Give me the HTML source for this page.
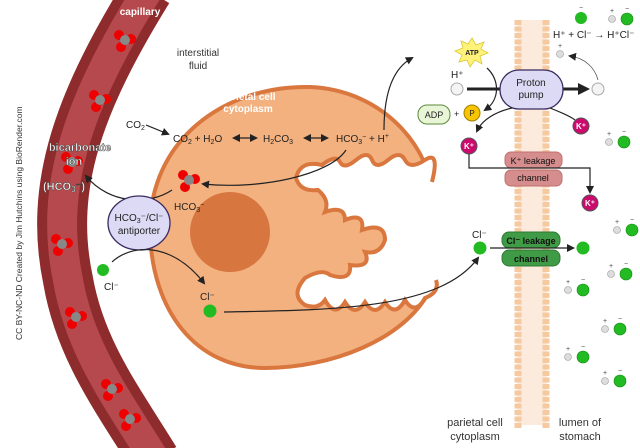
<!DOCTYPE html>
<html><head><meta charset="utf-8"><style>
html,body{margin:0;padding:0;background:#fff}
svg{display:block}
text{font-family:"Liberation Sans",sans-serif}
</style></head><body>
<svg width="640" height="448" viewBox="0 0 640 448" xmlns="http://www.w3.org/2000/svg">
<defs>
<marker id="ah" markerWidth="8" markerHeight="8" refX="6" refY="4" orient="auto-start-reverse" markerUnits="userSpaceOnUse"><path d="M0,0 L8,4 L0,8 Z" fill="#222"/></marker>
<g id="mol"><circle cx="-6" cy="-5" r="5" fill="#e00"/><circle cx="6" cy="-1" r="5" fill="#e00"/><circle cx="-4" cy="7" r="5" fill="#e00"/><circle cx="0" cy="0" r="5" fill="#888"/></g>
<g id="pr"><circle cx="0" cy="0" r="3.5" fill="#ddd" stroke="#999" stroke-width="0.6"/><circle cx="15" cy="0" r="6" fill="#22bb22" stroke="#118811" stroke-width="0.6"/><text x="-2" y="-6" font-size="7" fill="#444">+</text><text x="13" y="-8" font-size="7" fill="#444">−</text></g>
</defs>

<!-- membrane -->
<rect x="517" y="20" width="30" height="405" fill="#fcebdc"/>
<g stroke="#f6caa0" stroke-width="7" stroke-dasharray="5 1.5">
<line x1="518" y1="20" x2="518" y2="428"/>
<line x1="546" y1="20" x2="546" y2="428"/>
</g>

<!-- capillary -->
<path d="M148,-10 C80,100 48,185 68,280 C80,350 118,400 155,460" fill="none" stroke="#8e2b2c" stroke-width="50"/>
<path d="M148,-10 C80,100 48,185 68,280 C80,350 118,400 155,460" fill="none" stroke="#b5494d" stroke-width="30"/>
<use href="#mol" x="125" y="40"/>
<use href="#mol" x="100" y="100"/>
<use href="#mol" x="72" y="162"/>
<use href="#mol" x="62" y="244"/>
<use href="#mol" x="76" y="317"/>
<use href="#mol" x="112" y="389"/>
<use href="#mol" x="130" y="419"/>
<text x="140" y="15" font-size="10" font-weight="bold" fill="#fff" text-anchor="middle">capillary</text>

<!-- cell -->
<path d="M150,232 C148,140 225,85 310,87 C385,90 432,150 433,200 C436,240 438,260 430,290 C405,340 330,368 265,368 C195,368 152,310 150,232 Z" fill="#f3b17f" stroke="#d9773f" stroke-width="4"/>
<circle cx="230" cy="232" r="40" fill="#d7763f"/>
<path d="M445,178 L432,182 Q440,150 425,160 T405,160 T388,160 T372,160 T356,160 T340,162 T322,165 Q300,160 296,178 Q300,192 318,190 Q330,200 325,212 Q345,205 345,220 Q365,212 362,230 Q385,222 385,240 Q380,255 365,252 Q372,268 350,265 Q352,282 330,275 Q322,268 305,278 Q290,295 305,305 Q318,310 325,300 Q335,318 345,302 Q355,318 365,302 Q375,318 385,302 Q395,318 405,300 Q415,316 425,298 Q440,292 438,280 L445,280 Z" fill="#fff"/>
<path d="M432,182 Q440,150 425,160 T405,160 T388,160 T372,160 T356,160 T340,162 T322,165 Q300,160 296,178 Q300,192 318,190 Q330,200 325,212 Q345,205 345,220 Q365,212 362,230 Q385,222 385,240 Q380,255 365,252 Q372,268 350,265 Q352,282 330,275 Q322,268 305,278 Q290,295 305,305 Q318,310 325,300 Q335,318 345,302 Q355,318 365,302 Q375,318 385,302 Q395,318 405,300 Q415,316 425,298 Q440,292 436,280" fill="none" stroke="#d9773f" stroke-width="4"/>

<text x="198" y="56" font-size="10" fill="#333" text-anchor="middle">interstitial</text>
<text x="198" y="69" font-size="10" fill="#333" text-anchor="middle">fluid</text>
<text x="248" y="100" font-size="10" font-weight="bold" fill="#fff" text-anchor="middle">parietal cell</text>
<text x="248" y="112" font-size="10" font-weight="bold" fill="#fff" text-anchor="middle">cytoplasm</text>

<text x="126" y="128" font-size="10" fill="#222">CO<tspan font-size="7" dy="2">2</tspan></text>
<path d="M146,125 L168,134" stroke="#222" stroke-width="1.2" marker-end="url(#ah)"/>
<text x="173" y="142" font-size="10" fill="#222">CO<tspan font-size="7" dy="2">2</tspan><tspan dy="-2"> + H</tspan><tspan font-size="7" dy="2">2</tspan><tspan dy="-2">O</tspan></text>
<path d="M234,138 L256,138" stroke="#222" stroke-width="1.3" marker-end="url(#ah)" marker-start="url(#ah)"/>
<text x="263" y="142" font-size="10" fill="#222">H<tspan font-size="7" dy="2">2</tspan><tspan dy="-2">CO</tspan><tspan font-size="7" dy="2">3</tspan></text>
<path d="M305,138 L327,138" stroke="#222" stroke-width="1.3" marker-end="url(#ah)" marker-start="url(#ah)"/>
<text x="336" y="142" font-size="10" fill="#222">HCO<tspan font-size="7" dy="2">3</tspan><tspan font-size="7" dy="-5">−</tspan><tspan dy="3"> + H</tspan><tspan font-size="7" dy="-4">+</tspan></text>
<path d="M384,130 C384,100 390,70 412,58" fill="none" stroke="#222" stroke-width="1.2" marker-end="url(#ah)"/>
<path d="M346,150 C330,175 260,190 203,184" fill="none" stroke="#222" stroke-width="1.2" marker-end="url(#ah)"/>
<use href="#mol" x="189" y="180"/>
<text x="174" y="210" font-size="10" fill="#222">HCO<tspan font-size="7" dy="2">3</tspan><tspan font-size="7" dy="-5">−</tspan></text>

<path d="M172,190 C150,205 110,205 86,176" fill="none" stroke="#222" stroke-width="1.2" marker-end="url(#ah)"/>
<g font-size="11" font-weight="bold" fill="#fff" stroke="#444" stroke-width="0.5" text-anchor="middle">
<text x="80" y="151">bicarbonate</text><text x="74" y="165">ion</text><text x="64" y="190">(HCO<tspan font-size="8" dy="2">3</tspan><tspan dy="-2">⁻)</tspan></text>
</g>
<ellipse cx="139" cy="223" rx="31" ry="27" fill="#dcdaf4" stroke="#3b2a60" stroke-width="1.3"/>
<text x="139" y="221" font-size="10" fill="#222" text-anchor="middle">HCO<tspan font-size="7" dy="2">3</tspan><tspan dy="-2">⁻/Cl⁻</tspan></text>
<text x="139" y="234" font-size="10" fill="#222" text-anchor="middle">antiporter</text>
<circle cx="103" cy="270" r="6" fill="#22bb22"/>
<text x="104" y="290" font-size="10" fill="#222">Cl⁻</text>
<path d="M112,262 C130,245 170,240 204,283" fill="none" stroke="#222" stroke-width="1.2" marker-end="url(#ah)"/>
<text x="200" y="300" font-size="10" fill="#222">Cl⁻</text>
<circle cx="210" cy="311" r="6.5" fill="#22bb22"/>
<path d="M224,312 C330,310 440,310 478,258" fill="none" stroke="#222" stroke-width="1.2" marker-end="url(#ah)"/>
<text x="472" y="238" font-size="10" fill="#222">Cl⁻</text>
<circle cx="480" cy="248" r="6.5" fill="#22bb22"/>

<rect x="502" y="232" width="58" height="16" rx="7" fill="#3f9b45" stroke="#2f7a34"/>
<rect x="502" y="250" width="58" height="16" rx="7" fill="#3f9b45" stroke="#2f7a34"/>
<text x="531" y="244" font-size="9" font-weight="bold" fill="#111" text-anchor="middle">Cl⁻ leakage</text>
<text x="531" y="262" font-size="9" font-weight="bold" fill="#111" text-anchor="middle">channel</text>
<path d="M490,248 L573,248" stroke="#222" stroke-width="1.2" marker-end="url(#ah)"/>
<circle cx="583" cy="248" r="6.5" fill="#22bb22"/>

<rect x="505" y="152" width="57" height="16" rx="6" fill="#d68d8d" stroke="#c07070"/>
<rect x="505" y="170" width="57" height="16" rx="6" fill="#d68d8d" stroke="#c07070"/>
<text x="533" y="164" font-size="9" fill="#111" text-anchor="middle">K⁺ leakage</text>
<text x="533" y="181" font-size="9" fill="#111" text-anchor="middle">channel</text>
<path d="M469,154 L469,168 L590,168 L590,192" fill="none" stroke="#222" stroke-width="1.2" marker-end="url(#ah)"/>
<g font-size="8" font-weight="bold" fill="#fff" text-anchor="middle">
<circle cx="469" cy="146" r="8" fill="#cc0a6e" stroke="#555"/><text x="469" y="149">K⁺</text>
<circle cx="581" cy="126" r="8" fill="#cc0a6e" stroke="#555"/><text x="581" y="129">K⁺</text>
<circle cx="590" cy="203" r="8" fill="#cc0a6e" stroke="#555"/><text x="590" y="206">K⁺</text>
</g>

<path d="M467,89 L580,89" stroke="#222" stroke-width="3"/>
<path d="M578,83 L590,89 L578,95 Z" fill="#222"/>
<rect x="500" y="70" width="63" height="39" rx="19" fill="#dcdaf4" stroke="#3b2a60" stroke-width="1.3"/>
<text x="531" y="86" font-size="10" fill="#222" text-anchor="middle">Proton</text>
<text x="531" y="98" font-size="10" fill="#222" text-anchor="middle">pump</text>
<path d="M512,108 C495,112 482,120 477,131" fill="none" stroke="#222" stroke-width="1.2" marker-end="url(#ah)"/>
<path d="M550,108 C560,112 570,116 575,120" fill="none" stroke="#222" stroke-width="1.2"/>
<circle cx="457" cy="89" r="6" fill="#f4f4f4" stroke="#aaa"/>
<circle cx="598" cy="89" r="6" fill="#f4f4f4" stroke="#aaa"/>
<text x="451" y="78" font-size="10" fill="#222">H⁺</text>
<polygon points="472,38 476,45 484,42 481,49 488,53 480,56 482,64 475,60 470,67 467,60 459,62 462,55 455,51 463,48 461,41 468,44" fill="#fff27a" stroke="#d8c830" stroke-width="0.8"/>
<text x="472" y="55" font-size="7" font-weight="bold" fill="#222" text-anchor="middle">ATP</text>
<path d="M487,68 C500,80 500,100 485,110" fill="none" stroke="#222" stroke-width="1.2" marker-end="url(#ah)"/>
<rect x="418" y="105" width="32" height="19" rx="9" fill="#e8f5d6" stroke="#5b8a3a"/>
<text x="434" y="118" font-size="9" fill="#222" text-anchor="middle">ADP</text>
<text x="454" y="117" font-size="9" fill="#222">+</text>
<circle cx="472" cy="113" r="8" fill="#f8c400" stroke="#a08000"/>
<text x="472" y="116" font-size="8" fill="#222" text-anchor="middle">P</text>

<circle cx="581" cy="18" r="6" fill="#22bb22"/><text x="579" y="10" font-size="7" fill="#444">−</text>
<use href="#pr" x="612" y="19"/>
<text x="553" y="38" font-size="10" fill="#222">H⁺ + Cl⁻ <tspan font-weight="bold">→</tspan> H⁺Cl⁻</text>
<circle cx="560" cy="54" r="3.5" fill="#ddd" stroke="#999" stroke-width="0.6"/><text x="558" y="48" font-size="7" fill="#444">+</text>
<path d="M598,80 C595,68 585,58 570,56" fill="none" stroke="#555" stroke-width="0.8" marker-end="url(#ah)"/>
<use href="#pr" x="609" y="142"/>
<use href="#pr" x="617" y="230"/>
<use href="#pr" x="611" y="274"/>
<use href="#pr" x="568" y="290"/>
<use href="#pr" x="605" y="329"/>
<use href="#pr" x="568" y="357"/>
<use href="#pr" x="605" y="381"/>

<text x="475" y="426" font-size="11" fill="#333" text-anchor="middle">parietal cell</text>
<text x="475" y="440" font-size="11" fill="#333" text-anchor="middle">cytoplasm</text>
<text x="580" y="426" font-size="11" fill="#333" text-anchor="middle">lumen of</text>
<text x="580" y="440" font-size="11" fill="#333" text-anchor="middle">stomach</text>

<text transform="translate(22,340) rotate(-90)" font-size="8.5" fill="#333">CC BY-NC-ND Created by Jim Hutchins using BioRender.com</text>
</svg>
</body></html>
